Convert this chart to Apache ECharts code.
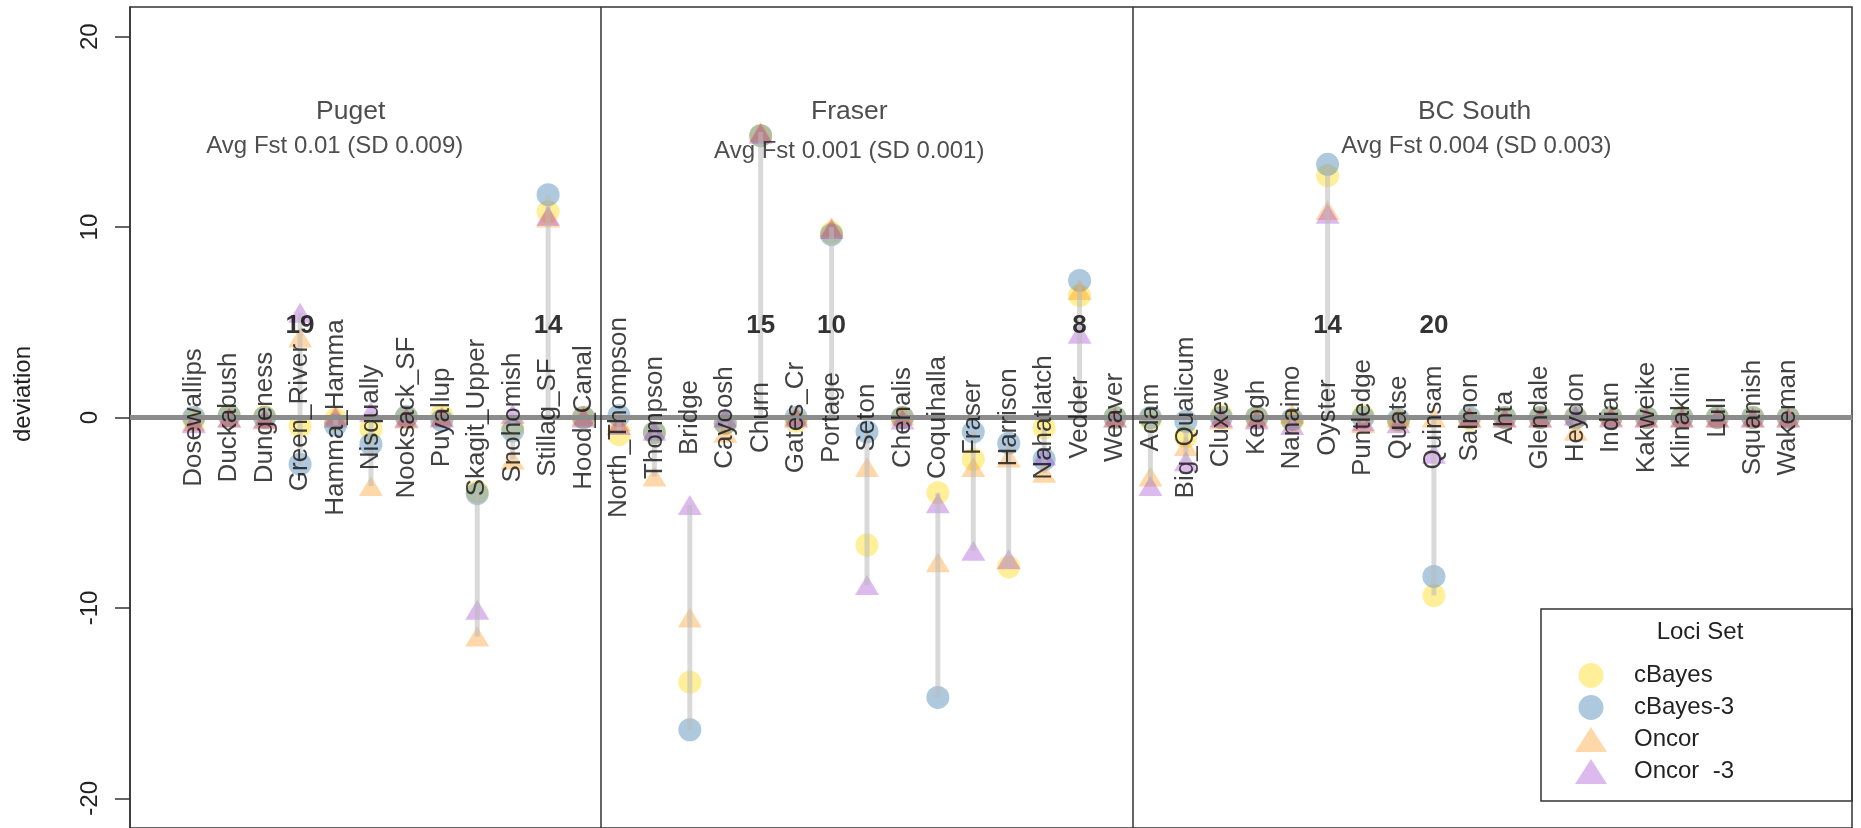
<!DOCTYPE html>
<html>
<head>
<meta charset="utf-8">
<script src="https://cdn.jsdelivr.net/npm/echarts@6/dist/echarts.min.js"></script>
<style>
  html, body { margin: 0; padding: 0; background: #fff; }
  #chart { width: 1861px; height: 828px; }
</style>
</head>
<body>
<div id="chart"></div>
<script>
// populations, grouped by region (order as plotted)
var puget = ['Dosewallips', 'Duckabush', 'Dungeness', 'Green_River', 'Hamma_Hamma', 'Nisqually', 'Nooksack_SF',
  'Puyallup', 'Skagit_Upper', 'Snohomish', 'Stillag_SF', 'Hood_Canal']
var fraser = ['North_Thompson', 'Thompson', 'Bridge', 'Cayoosh', 'Churn', 'Gates_Cr', 'Portage', 'Seton', 'Chehalis',
  'Coquihalla', 'Fraser', 'Harrison', 'Nahatlatch', 'Vedder', 'Weaver']
var bcSouth = ['Adam', 'Big_Qualicum', 'Cluxewe', 'Keogh', 'Nanaimo', 'Oyster', 'Puntledge', 'Quatse', 'Quinsam',
  'Salmon', 'Ahta', 'Glendale', 'Heydon', 'Indian', 'Kakweike', 'Klinaklini', 'Lull', 'Squamish', 'Wakeman']

var groupNames = ['Puget', 'Fraser', 'BC South']
var groupFst = ['Avg Fst 0.01 (SD 0.009)', 'Avg Fst 0.001 (SD 0.001)', 'Avg Fst 0.004 (SD 0.003)']

// deviation per population, one array per loci set
var cBayes = [-0.1, 0.1, 0.05, -0.45, -0.1, -0.6, 0.0, 0.1, -3.9, -0.5, 10.8, 0.0,
  -0.9, -0.8, -13.9, -0.3, 14.8, -0.2, 9.7, -6.7, 0.0, -3.95, -2.2, -7.85, -0.55, 6.4, 0.0,
  -0.1, -1.0, 0.1, 0.0, -0.2, 12.7, 0.1, -0.2, -9.35, -0.1, 0.0, 0.0, 0.0, 0.0, 0.0, 0.0, 0.0, 0.0, 0.0]
var cBayes3 = [0.0, 0.1, 0.0, -2.45, -0.4, -1.4, 0.05, -0.15, -4.0, -0.7, 11.7, 0.0,
  0.1, -0.8, -16.4, -0.3, 14.8, 0.0, 9.6, -0.75, 0.0, -14.7, -0.75, -1.35, -2.2, 7.2, 0.0,
  0.0, -0.2, 0.0, 0.0, -0.1, 13.3, 0.0, -0.1, -8.35, 0.0, 0.0, 0.0, 0.0, 0.0, 0.0, 0.0, 0.0, 0.0, 0.0]
var oncor = [-0.2, 0.0, -0.1, 4.2, 0.15, -3.6, -0.05, 0.05, -11.5, -2.2, 10.5, 0.1,
  -0.2, -3.1, -10.5, -0.8, 15.0, 0.1, 10.0, -2.6, 0.1, -7.6, -2.6, -2.1, -2.9, 6.7, 0.0,
  -3.1, -1.5, -0.1, 0.0, 0.2, 10.9, -0.3, 0.0, 0.0, 0.0, 0.0, 0.0, -0.7, 0.05, 0.0, 0.0, 0.0, 0.0, 0.0]
var oncor3 = [-0.3, 0.0, -0.05, 5.5, 0.0, 0.3, 0.0, 0.0, -10.1, 0.2, 10.6, 0.0,
  -0.4, -0.7, -4.6, 0.0, 14.9, 0.0, 9.9, -8.8, -0.1, -4.5, -7.0, -7.45, -2.0, 4.4, 0.0,
  -3.6, -2.3, 0.0, -0.1, -0.4, 10.7, -0.2, -0.3, -1.9, 0.0, 0.0, 0.0, 0.1, 0.0, 0.0, 0.0, 0.0, 0.0, 0.0]

// number of loci shown above some populations
var countPops = ['Green_River', 'Stillag_SF', 'Churn', 'Portage', 'Vedder', 'Oyster', 'Quinsam']
var countVals = [19, 14, 15, 10, 8, 14, 20]

var yTicks = [-20, -10, 0, 10, 20]

var FONT = '"Liberation Sans", Arial, sans-serif'
var pops = puget.concat(fraser, bcSouth)
var n = pops.length

function pts(arr) {
  return arr.map(function(v, i) { return [i + 1, v] })
}

// grey segment over the spread of the four sets (down to 0 for the counted ones)
var segData = pops.map(function(p, i) {
  var v = [cBayes[i], cBayes3[i], oncor[i], oncor3[i]]
  if (countPops.indexOf(p) >= 0) v.push(0)
  return [i + 1, Math.min.apply(null, v), Math.max.apply(null, v)]
})

var labelData = pops.map(function(p, i) { return { value: [i + 1, 0], name: p } })
var countData = countPops.map(function(p, k) {
  return { value: [pops.indexOf(p) + 1, 4.8], name: String(countVals[k]) }
})

// group boundaries and title positions
var b1 = puget.length + 0.5
var b2 = puget.length + fraser.length + 0.5
var nameX = [5.43, 19.5, 37.15]
var fstX = [4.98, 19.5, 37.2]
var fstY = [14.25, 14.0, 14.25]

var nameData = groupNames.map(function(g, k) { return { value: [nameX[k], 16.05], name: g } })
var fstData = groupFst.map(function(g, k) { return { value: [fstX[k], fstY[k]], name: g } })

var xPad = (n - 1) * 0.04
var yLim = 21.56

function textSeries(data, size, weight, color) {
  return {
    type: 'scatter', symbolSize: 1, silent: true, z: 5,
    itemStyle: { color: 'transparent' },
    label: {
      show: true, position: 'inside',
      fontSize: size, fontWeight: weight, color: color, fontFamily: FONT,
      formatter: function(d) { return d.name }
    },
    data: data
  }
}

var option = {
  animation: false,
  backgroundColor: '#fff',
  textStyle: { fontFamily: FONT },
  grid: {
    left: 130, top: 7, width: 1722, height: 822,
    show: true, borderColor: '#333', borderWidth: 1.5
  },
  xAxis: {
    type: 'value', min: 1 - xPad, max: n + xPad,
    show: false
  },
  yAxis: {
    type: 'value', min: -yLim, max: yLim,
    axisLine: { show: true, onZero: false, lineStyle: { color: '#333', width: 1.5 } },
    splitLine: { show: false },
    axisTick: { show: true, inside: false, customValues: yTicks, length: 15, lineStyle: { color: '#333', width: 1.5 } },
    axisLabel: { customValues: yTicks, rotate: 90, margin: 28, fontSize: 24, color: '#222', fontFamily: FONT }
  },
  legend: {
    orient: 'vertical',
    left: 1570, top: 658,
    itemWidth: 32, itemHeight: 25, itemGap: 7,
    textStyle: { fontSize: 24, color: '#222', fontFamily: FONT, padding: [0, 0, 0, 22] },
    data: [
      { name: 'cBayes', icon: 'circle' },
      { name: 'cBayes-3', icon: 'circle' },
      { name: 'Oncor', icon: 'triangle' },
      { name: 'Oncor  -3', icon: 'triangle' }
    ]
  },
  graphic: [
    { type: 'rect', shape: { x: 1541, y: 609, width: 311, height: 192 },
      style: { fill: 'none', stroke: '#333', lineWidth: 1.5 } },
    { type: 'text', x: 1700, y: 632,
      style: { text: 'Loci Set', font: '24px ' + FONT, fill: '#222', textAlign: 'center', textVerticalAlign: 'middle' } },
    // y axis title
    { type: 'text', x: 23, y: 394, rotation: Math.PI / 2,
      style: { text: 'deviation', font: '24px ' + FONT, fill: '#222', textAlign: 'center', textVerticalAlign: 'middle' } }
  ],
  series: [
    {
      name: 'cBayes', type: 'scatter', symbol: 'circle', symbolSize: 23, silent: true, z: 2,
      itemStyle: { color: 'rgba(255,215,0,0.5)' },
      data: pts(cBayes)
    },
    {
      name: 'cBayes-3', type: 'scatter', symbol: 'circle', symbolSize: 23, silent: true, z: 2,
      itemStyle: { color: 'rgba(70,130,180,0.55)' },
      data: pts(cBayes3)
    },
    {
      name: 'Oncor', type: 'scatter', symbol: 'triangle', symbolSize: [24, 20], silent: true, z: 2,
      itemStyle: { color: 'rgba(255,140,0,0.42)' },
      data: pts(oncor)
    },
    {
      name: 'Oncor  -3', type: 'scatter', symbol: 'triangle', symbolSize: [24, 20], silent: true, z: 2,
      itemStyle: { color: 'rgba(153,50,204,0.42)' },
      data: pts(oncor3)
    },
    {
      // spread segments
      type: 'custom', silent: true, z: 3,
      encode: { x: 0, y: [1, 2] },
      renderItem: function(params, api) {
        var x = api.value(0)
        var p1 = api.coord([x, api.value(1)])
        var p2 = api.coord([x, api.value(2)])
        return {
          type: 'line',
          shape: { x1: p1[0], y1: p1[1], x2: p2[0], y2: p2[1] },
          style: { stroke: 'rgba(185,185,185,0.55)', lineWidth: 5 }
        }
      },
      data: segData
    },
    {
      // zero line + group separators
      type: 'line', silent: true, z: 4, data: [],
      markLine: {
        silent: true, symbol: 'none', animation: false,
        label: { show: false },
        data: [
          { yAxis: 0, lineStyle: { color: '#8c8c8c', width: 5, type: 'solid' } },
          { xAxis: b1, lineStyle: { color: '#333', width: 1.5, type: 'solid' } },
          { xAxis: b2, lineStyle: { color: '#333', width: 1.5, type: 'solid' } }
        ]
      }
    },
    {
      // population names
      type: 'scatter', symbolSize: 1, silent: true, z: 5,
      itemStyle: { color: 'transparent' },
      label: {
        show: true, position: 'inside', rotate: 90,
        fontSize: 26, color: '#111', fontFamily: FONT,
        align: 'center', verticalAlign: 'middle',
        formatter: function(d) { return d.name }
      },
      data: labelData
    },
    textSeries(countData, 26, 'bold', '#000'),
    textSeries(nameData, 26.5, 'normal', '#222'),
    textSeries(fstData, 24, 'normal', '#222')
  ]
}

var myChart = echarts.init(document.getElementById('chart'))
myChart.setOption(option)
</script>
</body>
</html>
